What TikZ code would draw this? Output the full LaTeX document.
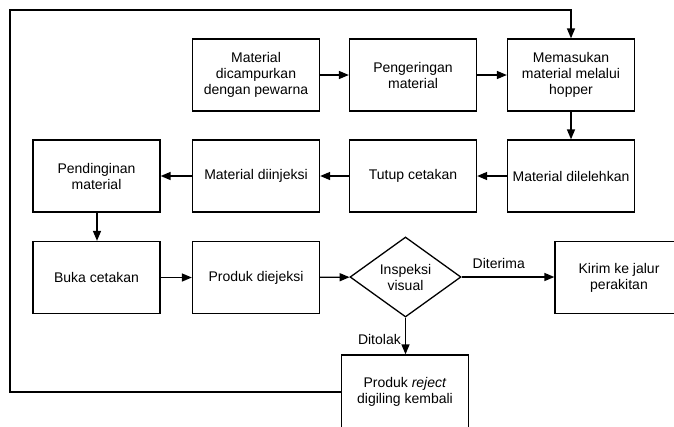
\documentclass[tikz,border=0pt]{standalone}
\usepackage{fontspec}
\setmainfont{Liberation Sans}
\usetikzlibrary{arrows.meta,shapes.geometric}
\tikzset{
  box/.style={draw=black, line width=1.3pt, minimum width=127pt, minimum height=72pt, inner sep=2pt, align=center, font=\fontsize{14}{16}\selectfont},
  dia/.style={draw=black, diamond, line width=1.3pt, minimum width=111pt, minimum height=80pt, inner sep=0pt, align=center, font=\fontsize{14}{16}\selectfont},
  conn/.style={line width=1.4pt, -{Triangle[length=10pt,width=8pt]}},
  lbl/.style={font=\fontsize{14}{16}\selectfont, inner sep=0pt}
}
\begin{document}
\begin{tikzpicture}[x=1pt,y=-1pt]
\clip (0,0) rectangle (674,426);
\fill[white] (0,0) rectangle (674,426);
% row 1
\node[box] (a) at (256,75) {Material\\dicampurkan\\dengan pewarna};
\node[box] (b) at (413,75) {Pengeringan\\material};
\node[box] (c) at (571,75) {Memasukan\\material melalui\\hopper};
% row 2
\node[box] (d) at (96.5,176) {Pendinginan\\material};
\node[box] (e) at (256,176) {Material diinjeksi};
\node[box] (f) at (413,176) {Tutup cetakan};
\node[box] (g) at (571,176) {Material dilelehkan};
% row 3
\node[box] (h) at (96.5,277.5) {Buka cetakan};
\node[box] (i) at (256,277.5) {Produk diejeksi};
\node[dia] (j) at (405.5,277) {Inspeksi\\visual};
\node[box, minimum width=128pt] (k) at (619,277.5) {Kirim ke jalur\\perakitan};
\node[box, minimum height=74pt] (r) at (405,392) {Produk \textit{reject}\\digiling kembali};
% connectors
\draw[conn] (a) -- (b);
\draw[conn] (b) -- (c);
\draw[conn] (c) -- (g);
\draw[conn] (g) -- (f);
\draw[conn] (f) -- (e);
\draw[conn] (e) -- (d);
\draw[conn] (d.south -| 97,0) -- (h.north -| 97,0);
\draw[conn] (h) -- (i);
\draw[conn] (i) -- (j);
\draw[conn] (j.east) -- node[lbl, above=8pt, pos=0.4] (lt) {Diterima} (k.west |- j.east);
\draw[conn] (j.south) -- node[lbl, left=4pt, pos=0.6] (lf) {Ditolak} (r.north -| j.south);
\coordinate (p1) at (10,392);
\coordinate (p2) at (10,10);
\draw[conn] (r.west |- p1) -- (p1) -- (p2) -| (c.north);
\end{tikzpicture}
\end{document}
